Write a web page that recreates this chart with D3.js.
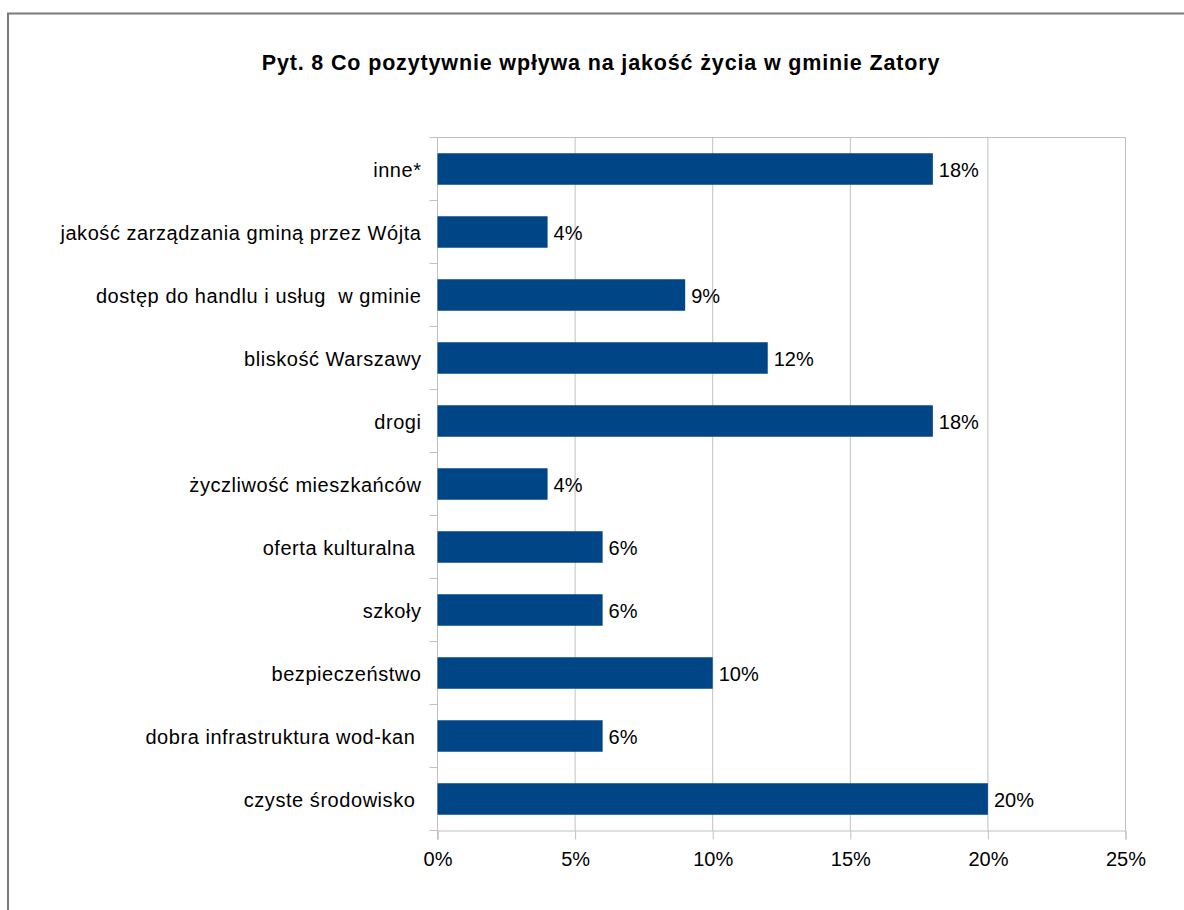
<!DOCTYPE html>
<html>
<head>
<meta charset="utf-8">
<script src="https://cdn.jsdelivr.net/npm/d3@7"></script>
<style>
  body { margin: 0; background: #fff; }
  text { font-family: "Liberation Sans", Arial, sans-serif; fill: #000; white-space: pre; }
</style>
</head>
<body>
<div id="chart"></div>
<script>
//data (top to bottom)
var categories = [
    "inne*",
    "jakość zarządzania gminą przez Wójta",
    "dostęp do handlu i usług  w gminie",
    "bliskość Warszawy",
    "drogi",
    "życzliwość mieszkańców",
    "oferta kulturalna ",
    "szkoły",
    "bezpieczeństwo",
    "dobra infrastruktura wod-kan ",
    "czyste środowisko "
];
var values = [0.18, 0.04, 0.09, 0.12, 0.18, 0.04, 0.06, 0.06, 0.10, 0.06, 0.20];
var xTicks = [0, 0.05, 0.10, 0.15, 0.20, 0.25];
var title = "Pyt. 8 Co pozytywnie wpływa na jakość życia w gminie Zatory";

var svgWidth = 1184;
var svgHeight = 910;

//plot area inside the frame
var chartMargin = {top: 137.5, right: 58.5, bottom: 79.5, left: 437.5};
var chartWidth = svgWidth - chartMargin.left - chartMargin.right;
var chartHeight = svgHeight - chartMargin.top - chartMargin.bottom;

var svg = d3.select("#chart")
    .append("svg")
    .attr("width", svgWidth)
    .attr("height", svgHeight);

//outer frame, runs off the right and bottom edge
svg.append("rect")
    .attr("x", 8)
    .attr("y", 13.5)
    .attr("width", svgWidth + 20)
    .attr("height", svgHeight + 20)
    .attr("fill", "none")
    .attr("stroke", "#7a7a7a")
    .attr("stroke-width", 2);

//title - reference glyphs run wider, so a bit of letter spacing
svg.append("text")
    .attr("x", 601)
    .attr("y", 70)
    .attr("text-anchor", "middle")
    .style("font-size", "21.5px")
    .style("font-weight", "bold")
    .style("letter-spacing", "0.85px")
    .text(title);

var chartGroup = svg.append("g")
    .attr("transform", `translate(${chartMargin.left}, ${chartMargin.top})`);

var xScale = d3.scaleLinear()
    .domain([0, 0.25])
    .range([0, chartWidth]);

var yScale = d3.scaleBand()
    .domain(categories)
    .range([0, chartHeight])
    .paddingInner(0.5)
    .paddingOuter(0.25);

//vertical gridlines
chartGroup.selectAll(".grid")
    .data(xTicks)
    .enter()
    .append("line")
    .attr("class", "grid")
    .attr("x1", d => xScale(d))
    .attr("x2", d => xScale(d))
    .attr("y1", 0)
    .attr("y2", chartHeight)
    .attr("stroke", "#c0c0c0")
    .attr("stroke-width", 1);

//top border of plot area
chartGroup.append("line")
    .attr("x1", 0)
    .attr("x2", chartWidth)
    .attr("y1", 0)
    .attr("y2", 0)
    .attr("stroke", "#c0c0c0");

//bottom axis
var bottomAxis = d3.axisBottom(xScale)
    .tickValues(xTicks)
    .tickSize(9)
    .tickPadding(12)
    .tickFormat(d3.format(".0%"));

var xAxis = chartGroup.append("g")
    .attr("transform", `translate(0, ${chartHeight})`)
    .call(bottomAxis);

xAxis.select(".domain").attr("stroke", "#c0c0c0");
xAxis.selectAll(".tick line").attr("stroke", "#c0c0c0");
xAxis.selectAll(".tick text")
    .style("font-size", "20px")
    .attr("fill", "#000");

//left axis line, ticks sit between the categories
chartGroup.append("line")
    .attr("x1", 0)
    .attr("x2", 0)
    .attr("y1", 0)
    .attr("y2", chartHeight + 9)
    .attr("stroke", "#c0c0c0");

var step = yScale.step();
var boundaries = d3.range(categories.length + 1);
chartGroup.selectAll(".ytick")
    .data(boundaries)
    .enter()
    .append("line")
    .attr("class", "ytick")
    .attr("x1", -8)
    .attr("x2", 0)
    .attr("y1", d => d * step)
    .attr("y2", d => d * step)
    .attr("stroke", "#c0c0c0");

//category labels
chartGroup.selectAll(".cat")
    .data(categories)
    .enter()
    .append("text")
    .attr("class", "cat")
    .attr("x", -16)
    .attr("y", d => yScale(d) + yScale.bandwidth() / 2 + 1)
    .attr("dy", "0.35em")
    .attr("text-anchor", "end")
    .style("font-size", "20px")
    .style("letter-spacing", "0.55px")
    .text(d => d);

//bars
chartGroup.selectAll(".bar")
    .data(values)
    .enter()
    .append("rect")
    .attr("class", "bar")
    .attr("x", 0)
    .attr("y", (d, i) => yScale(categories[i]))
    .attr("width", d => xScale(d))
    .attr("height", yScale.bandwidth())
    .attr("fill", "#004586");

//value labels
chartGroup.selectAll(".val")
    .data(values)
    .enter()
    .append("text")
    .attr("class", "val")
    .attr("x", d => xScale(d) + 6)
    .attr("y", (d, i) => yScale(categories[i]) + yScale.bandwidth() / 2 + 1)
    .attr("dy", "0.35em")
    .style("font-size", "20px")
    .text(d => d3.format(".0%")(d));
</script>
</body>
</html>
